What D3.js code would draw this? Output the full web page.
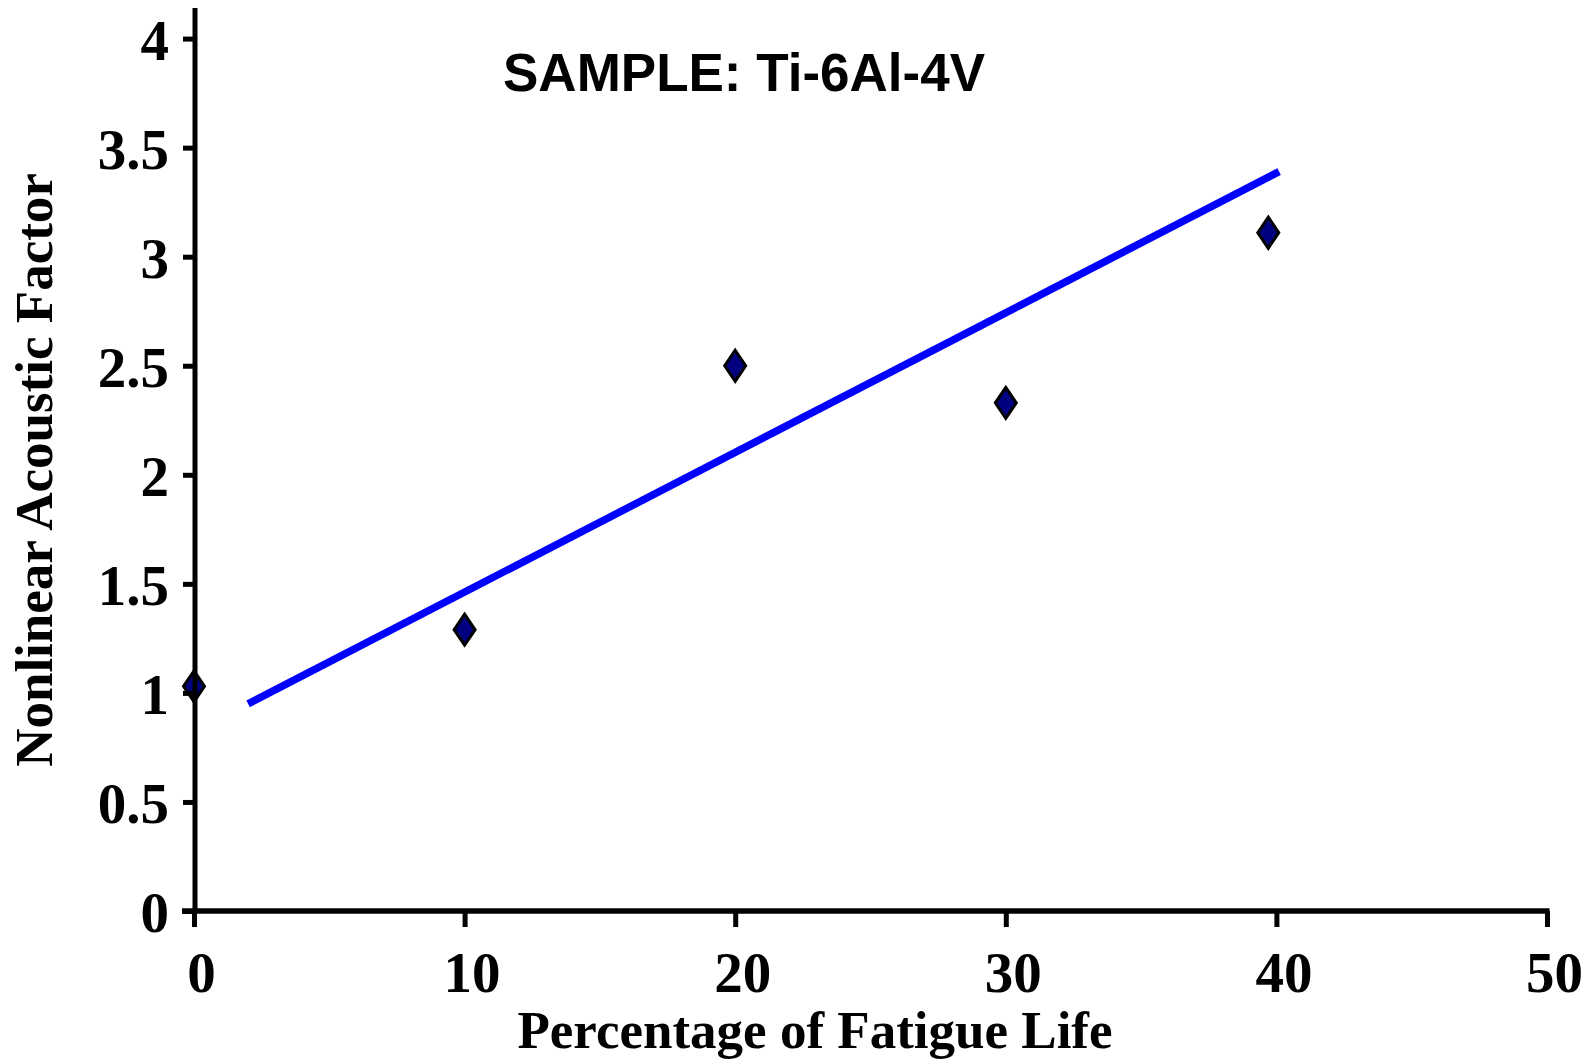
<!DOCTYPE html>
<html>
<head>
<meta charset="utf-8">
<script src="https://cdn.jsdelivr.net/npm/d3@7"></script>
<style>
  html, body { margin: 0; padding: 0; background: #fff; }
  svg { display: block; }
</style>
</head>
<body>
<svg id="chart" width="1594" height="1061"></svg>
<script>
// Fatigue life (%) vs nonlinear acoustic factor, Ti-6Al-4V sample
const fatigueLife = [0, 10, 20, 30, 39.7];
const acousticFactor = [1.03, 1.29, 2.5, 2.33, 3.11];

// Linear trend line end points
const trendX = [2, 40.1];
const trendY = [0.95, 3.39];

const xTicks = [0, 10, 20, 30, 40, 50];
const yTicks = [0, 0.5, 1, 1.5, 2, 2.5, 3, 3.5, 4];

const titleText = "SAMPLE: Ti-6Al-4V";
const xTitle = "Percentage of Fatigue Life";
const yTitle = "Nonlinear Acoustic Factor";

const svg = d3.select("#chart");
const serif = "'Liberation Serif', 'Times New Roman', serif";
const sans = "'Liberation Sans', Arial, sans-serif";

const x = d3.scaleLinear().domain([0, 50]).range([194, 1547]);
const y = d3.scaleLinear().domain([0, 4]).range([911, 38.6]);

// Trend line
svg.append("line")
  .attr("x1", x(trendX[0])).attr("y1", y(trendY[0]))
  .attr("x2", x(trendX[1])).attr("y2", y(trendY[1]))
  .attr("stroke", "#0000ff")
  .attr("stroke-width", 7.5);

// Data markers (diamonds)
const diamond = "M0,-15.5 L10.5,0 L0,15.5 L-10.5,0 Z";
svg.append("g").selectAll("path")
  .data(fatigueLife.map((d, i) => [d, acousticFactor[i]]))
  .join("path")
  .attr("d", diamond)
  .attr("transform", d => `translate(${x(d[0])},${y(d[1])})`)
  .attr("fill", "#000080")
  .attr("stroke", "#000")
  .attr("stroke-width", 3)
  .attr("stroke-linejoin", "miter");

// Y axis
const yAxis = svg.append("g")
  .attr("transform", `translate(${x(0) + 1},0)`)
  .call(d3.axisLeft(y).tickValues(yTicks).tickFormat(d => d)
    .tickSize(12).tickSizeOuter(0).tickPadding(14));
yAxis.select(".domain").remove();
yAxis.selectAll(".tick line").attr("stroke", "#000").attr("stroke-width", 5);
yAxis.selectAll(".tick text")
  .attr("font-family", serif).attr("font-weight", "bold")
  .attr("font-size", 57).attr("fill", "#000")
  .attr("dy", "0.36em");
yAxis.append("line")
  .attr("x1", 0).attr("x2", 0)
  .attr("y1", 8).attr("y2", y(0))
  .attr("stroke", "#000").attr("stroke-width", 5);

// X axis
const xAxis = svg.append("g")
  .attr("transform", `translate(0,${y(0)})`)
  .call(d3.axisBottom(x).tickValues(xTicks).tickFormat(d => d)
    .tickSize(16).tickSizeOuter(0).tickPadding(25));
xAxis.select(".domain").remove();
xAxis.selectAll(".tick line").attr("stroke", "#000").attr("stroke-width", 5);
xAxis.selectAll(".tick text")
  .attr("font-family", serif).attr("font-weight", "bold")
  .attr("font-size", 57).attr("fill", "#000")
  .attr("dx", 7);
xAxis.append("line")
  .attr("x1", 182).attr("x2", x(50) + 2.5)
  .attr("y1", 0).attr("y2", 0)
  .attr("stroke", "#000").attr("stroke-width", 5.5);

// Chart title
svg.append("text")
  .attr("x", 744).attr("y", 91)
  .attr("text-anchor", "middle")
  .attr("font-family", sans).attr("font-weight", "bold")
  .attr("font-size", 53)
  .text(titleText);

// Axis titles
svg.append("text")
  .attr("x", 815).attr("y", 1048)
  .attr("text-anchor", "middle")
  .attr("font-family", serif).attr("font-weight", "bold")
  .attr("font-size", 53)
  .text(xTitle);

svg.append("text")
  .attr("transform", "translate(52,470) rotate(-90)")
  .attr("text-anchor", "middle")
  .attr("font-family", serif).attr("font-weight", "bold")
  .attr("font-size", 53)
  .text(yTitle);
</script>
</body>
</html>
